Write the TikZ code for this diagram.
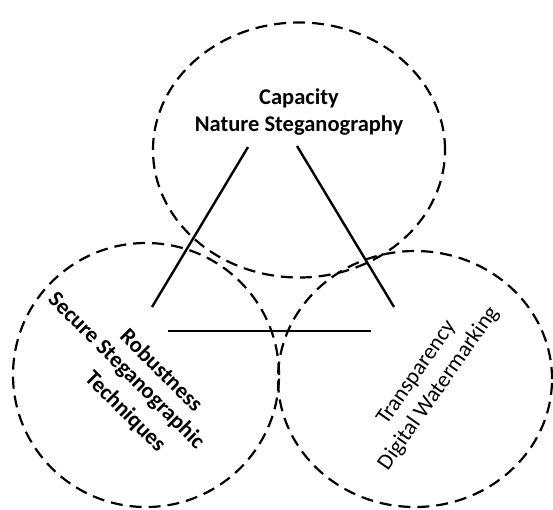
\documentclass[tikz,border=0pt]{standalone}
\usepackage{fontspec}
\setmainfont{Carlito}
\usetikzlibrary{positioning,shapes}

\begin{document}
\begin{tikzpicture} [x=1pt,y=-1pt,line width=2.2pt]

  \tikzset{
    ring/.style={draw,ellipse,inner sep=0pt,dash pattern=on 12pt off 7pt},
    label/.style={align=center,font=\fontsize{22.5}{27}\selectfont\bfseries},
    side/.style={line width=2.4pt}
  }

  \useasboundingbox (0,0) rectangle (553,509);

  % the three areas
  \node[ring,minimum width=292pt,minimum height=255pt] (capring) at (299,150) {};
  \node[ring,minimum width=266pt,minimum height=264pt] (robring) at (146,375) {};
  \node[ring,minimum width=274pt,minimum height=256pt] (traring) at (415,379) {};

  % texts
  \node[label] (cap) at (299,112) {Capacity\\Nature Steganography};
  \node[label,rotate=-45] (rob1) at (162,370) {Robustness};
  \node[label,rotate=-45] (rob2) at (126,371) {Secure Steganographic};
  \node[label,rotate=-45] (rob3) at (125,412) {Techniques};
  \node[label,rotate=55,font=\fontsize{22.5}{27}\selectfont] (tra) at (428,381) {Transparency\\Digital Watermarking};

  % triangle
  \coordinate (t1) at (248,147);
  \coordinate (t2) at (152,307);
  \coordinate (t3) at (297,146);
  \coordinate (t4) at (394,307);
  \coordinate (t5) at (168,331);
  \coordinate (t6) at (371,331);

  \draw[side] (t1) -- (t2);
  \draw[side] (t3) -- (t4);
  \draw[side] (t5) -- (t6);

\end{tikzpicture}
\end{document}
